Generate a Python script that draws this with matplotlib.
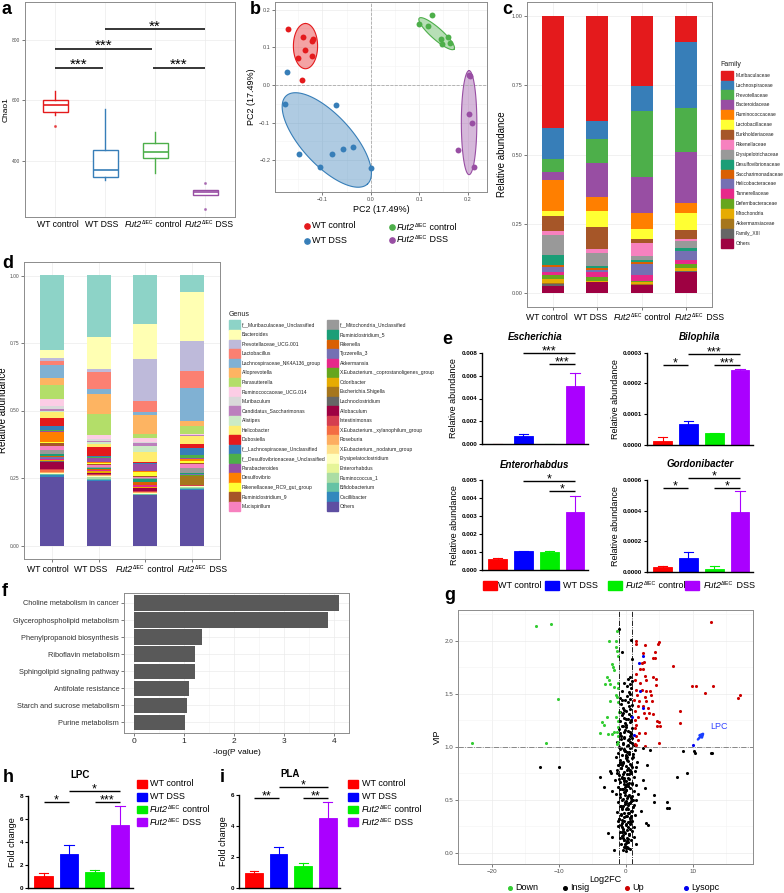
import numpy as np
import matplotlib
matplotlib.use("Agg")
import matplotlib.pyplot as plt
from matplotlib.patches import Rectangle
from matplotlib.lines import Line2D
from matplotlib.ticker import FormatStrFormatter
from matplotlib.offsetbox import TextArea, HPacker, VPacker, DrawingArea, AnnotationBbox

plt.rcParams['font.family'] = ['Liberation Sans', 'DejaVu Sans']

# ==========================
# DATA
# ==========================
group_names = ['WT control', 'WT DSS', 'Fut2 control', 'Fut2 DSS']
set1 = ['#E41A1C', '#377EB8', '#4DAF4A', '#984EA3']
bright = ['#FF0000', '#0000FF', '#00EE00', '#AA00FF']

# a - Chao1
chao_med = [584, 369, 427, 295]
chao_q1 = [562, 347, 409, 287]
chao_q3 = [601, 436, 458, 303]
chao_lo = [550, 337, 359, 287]
chao_hi = [631, 570, 493, 303]
chao_fliers = [[515], [], [], [326, 241]]

# b - PCoA
pc_x = [[-0.171, -0.140, -0.120, -0.121, -0.135, -0.151, -0.122, -0.142],
        [-0.173, -0.178, -0.073, -0.149, -0.080, -0.058, -0.037, -0.104, 0.001],
        [0.099, 0.126, 0.118, 0.144, 0.146, 0.159, 0.164],
        [0.203, 0.205, 0.203, 0.210, 0.181, 0.214]]
pc_y = [[0.148, 0.127, 0.121, 0.116, 0.093, 0.072, 0.078, 0.013],
        [0.035, -0.051, -0.054, -0.182, -0.184, -0.170, -0.165, -0.217, -0.221],
        [0.162, 0.186, 0.157, 0.123, 0.108, 0.127, 0.111],
        [0.027, 0.025, -0.077, -0.100, -0.173, -0.219]]
ell_center = [(-0.135, 0.103), (-0.091, -0.146), (0.136, 0.136), (0.203, -0.100)]
ell_u = [(0.0, 0.060), (0.084, -0.117), (0.036, -0.041), (0.0, 0.138)]
ell_v = [(0.025, 0.0), (0.038, 0.045), (-0.0078, -0.0113), (0.016, 0.0)]

# c - family
fam_names = ['Muribaculaceae', 'Lachnospiraceae', 'Prevotellaceae', 'Bacteroidaceae',
             'Ruminococcaceae', 'Lactobacillaceae', 'Burkholderiaceae', 'Rikenellaceae',
             'Erysipelotrichaceae', 'Desulfovibrionaceae', 'Saccharimonadaceae',
             'Helicobacteraceae', 'Tannerellaceae', 'Deferribacteraceae', 'Mitochondria',
             'Akkermansiaceae', 'Family_XIII', 'Others']
fam_colors = ['#E41A1C', '#377EB8', '#4DAF4A', '#984EA3', '#FF7F00', '#FFFF33', '#A65628',
              '#F781BF', '#999999', '#1B9E77', '#D95F02', '#7570B3', '#E7298A', '#66A61E',
              '#E6AB02', '#A6761D', '#666666', '#9E0142']
fam_wt_ctrl = [0.403, 0.114, 0.045, 0.030, 0.112, 0.017, 0.055, 0.015, 0.072, 0.036,
               0.007, 0.019, 0.009, 0.015, 0.014, 0.005, 0.007, 0.025]
fam_wt_dss = [0.378, 0.067, 0.086, 0.122, 0.049, 0.061, 0.078, 0.015, 0.047, 0.008,
              0.004, 0.010, 0.017, 0.014, 0.003, 0.001, 0.001, 0.039]
fam_fut_ctrl = [0.254, 0.090, 0.238, 0.130, 0.058, 0.035, 0.015, 0.045, 0.017, 0.005,
                0.009, 0.038, 0.021, 0.006, 0.007, 0.002, 0.002, 0.028]
fam_fut_dss = [0.095, 0.237, 0.158, 0.184, 0.036, 0.063, 0.032, 0.006, 0.026, 0.011,
               0.001, 0.032, 0.014, 0.014, 0.010, 0.002, 0.001, 0.078]

# d - genus
gen_names = ['f__Muribaculaceae_Unclassified', 'Bacteroides', 'Prevotellaceae_UCG.001',
             'Lactobacillus', 'Lachnospiraceae_NK4A136_group', 'Alloprevotella',
             'Parasutterella', 'Ruminococcaceae_UCG.014', 'Muribaculum',
             'Candidatus_Saccharimonas', 'Alistipes', 'Helicobacter', 'Dubosiella',
             'f__Lachnospiraceae_Unclassified', 'f__Desulfovibrionaceae_Unclassified',
             'Parabacteroides', 'Desulfovibrio', 'Rikenellaceae_RC9_gut_group',
             'Ruminiclostridium_9', 'Mucispirillum',
             'f__Mitochondria_Unclassified', 'Ruminiclostridium_5', 'Rikenella', 'Tyzzerella_3',
             'Akkermansia', 'X.Eubacterium._coprostanoligenes_group', 'Odoribacter',
             'Escherichia.Shigella', 'Lachnoclostridium', 'Allobaculum', 'Intestinimonas',
             'X.Eubacterium._xylanophilum_group', 'Roseburia', 'X.Eubacterium._nodatum_group',
             'Erysipelatoclostridium', 'Enterorhabdus', 'Ruminococcus_1', 'Bifidobacterium',
             'Oscillibacter', 'Others']
gen_colors = ['#8DD3C7', '#FFFFB3', '#BEBADA', '#FB8072', '#80B1D3', '#FDB462', '#B3DE69',
              '#FCCDE5', '#D9D9D9', '#BC80BD', '#CCEBC5', '#FFED6F', '#E41A1C', '#377EB8',
              '#4DAF4A', '#984EA3', '#FF7F00', '#FFFF33', '#A65628', '#F781BF',
              '#999999', '#1B9E77', '#D95F02', '#7570B3', '#E7298A', '#66A61E', '#E6AB02',
              '#A6761D', '#666666', '#9E0142', '#D53E4F', '#F46D43', '#FDAE61', '#FEE08B',
              '#FFFFBF', '#E6F598', '#ABDDA4', '#66C2A5', '#3288BD', '#5E4FA2']
gen_wt_ctrl = [0.276, 0.030, 0.010, 0.016, 0.046, 0.027, 0.053, 0.027, 0.011, 0.007,
               0.004, 0.020, 0.032, 0.012, 0.006, 0.004, 0.037, 0.001, 0.013, 0.014,
               0.015, 0.006, 0.006, 0.006, 0.004, 0.002, 0.002, 0.001, 0.001, 0.028,
               0.004, 0.006, 0.004, 0.002, 0.001, 0.001, 0.002, 0.002, 0.006, 0.255]
gen_wt_dss = [0.228, 0.118, 0.011, 0.063, 0.020, 0.073, 0.076, 0.016, 0.009, 0.004,
              0.006, 0.012, 0.031, 0.004, 0.005, 0.016, 0.002, 0.005, 0.004, 0.007,
              0.004, 0.002, 0.004, 0.002, 0.001, 0.002, 0.005, 0.001, 0.002, 0.004,
              0.001, 0.002, 0.002, 0.002, 0.002, 0.001, 0.005, 0.005, 0.004, 0.239]
gen_fut_ctrl = [0.178, 0.131, 0.156, 0.039, 0.012, 0.072, 0.014, 0.013, 0.005, 0.010,
                0.023, 0.036, 0.006, 0.002, 0.002, 0.025, 0.004, 0.015, 0.002, 0.005,
                0.004, 0.011, 0.010, 0.002, 0.005, 0.002, 0.002, 0.001, 0.001, 0.009,
                0.004, 0.002, 0.002, 0.002, 0.002, 0.001, 0.001, 0.001, 0.002, 0.186]
gen_fut_dss = [0.061, 0.183, 0.110, 0.065, 0.120, 0.018, 0.032, 0.002, 0.002, 0.001,
               0.001, 0.031, 0.015, 0.025, 0.010, 0.004, 0.009, 0.005, 0.004, 0.017,
               0.017, 0.004, 0.002, 0.001, 0.002, 0.001, 0.002, 0.032, 0.001, 0.001,
               0.001, 0.001, 0.001, 0.001, 0.001, 0.001, 0.004, 0.004, 0.002, 0.207]

# e - selected genera (mean, mean + sem)
esch_mean = [0.00005, 0.00075, 0.00001, 0.00512]
esch_top = [0.00005, 0.00094, 0.00001, 0.00620]
bilo_mean = [0.000013, 0.000066, 0.000039, 0.000243]
bilo_top = [0.000024, 0.000078, 0.000039, 0.000248]
ente_mean = [0.00062, 0.00105, 0.00098, 0.00323]
ente_top = [0.00067, 0.00106, 0.00108, 0.00415]
gord_mean = [0.000032, 0.000095, 0.000024, 0.000389]
gord_top = [0.000041, 0.000130, 0.000043, 0.000530]

# f - pathways
path_names = ['Choline metabolism in cancer', 'Glycerophospholipid metabolism',
              'Phenylpropanoid biosynthesis', 'Riboflavin metabolism',
              'Sphingolipid signaling pathway', 'Antifolate resistance',
              'Starch and sucrose metabolism', 'Purine metabolism']
path_logp = [4.10, 3.88, 1.35, 1.22, 1.22, 1.09, 1.05, 1.01]

# g - volcano
down_x = [-13.4, -11.1, -1.3, -2.5, -1.5, -1.5, -1.3, -1.2, -2.0, -1.9, -1.7, -2.8, -2.5,
          -3.1, -2.3, -1.2, -1.7, -1.2, -10.1, -1.5, -1.3, -2.4, -1.1, -2.8, -1.4, -1.2,
          -3.5, -3.3, -1.2, -1.3, -3.8, -2.7, -2.0, -1.2, -23.0, -11.9, -1.2, -1.3, -1.7, -1.0]
down_y = [2.14, 2.16, 2.09, 2.00, 2.00, 1.94, 1.90, 1.86, 1.78, 1.75, 1.72, 1.66, 1.63,
          1.59, 1.59, 1.60, 1.56, 1.55, 1.45, 1.49, 1.47, 1.43, 1.42, 1.28, 1.28, 1.24,
          1.23, 1.21, 1.19, 1.14, 1.13, 1.12, 1.12, 1.10, 1.04, 1.04, 1.05, 1.03, 1.14, 1.33]
up_x = [12.7, 1.5, 1.6, 2.9, 4.9, 4.8, 4.4, 4.1, 4.4, 2.6, 2.4, 2.7, 2.1, 2.6, 7.0, 1.5,
        2.9, 4.1, 4.5, 1.4, 2.2, 3.1, 4.5, 9.9, 10.5, 13.0, 1.5, 2.5, 3.0, 3.6, 11.8, 1.7,
        2.9, 3.7, 17.0, 16.8, 1.2, 2.0, 3.1, 3.9, 1.9, 2.6, 3.4, 1.4, 8.1, 2.7, 3.5, 4.1,
        1.9, 3.0, 1.4, 4.6, 4.9, 8.1, 1.6, 1.4, 4.6, 5.1, 2.0, 2.9, 1.5, 1.9, 1.4, 5.0,
        2.9, 1.6]
up_y = [2.18, 2.00, 1.97, 1.96, 1.99, 1.97, 1.89, 1.84, 1.84, 1.88, 1.79, 1.80, 1.73,
        1.73, 1.76, 1.69, 1.67, 1.66, 1.64, 1.63, 1.60, 1.63, 1.58, 1.57, 1.57, 1.57,
        1.54, 1.54, 1.53, 1.53, 1.51, 1.49, 1.47, 1.49, 1.49, 1.46, 1.44, 1.43, 1.43,
        1.43, 1.38, 1.38, 1.37, 1.34, 1.34, 1.32, 1.32, 1.31, 1.28, 1.27, 1.25, 1.24,
        1.23, 1.22, 1.21, 1.18, 1.20, 1.20, 1.13, 1.13, 1.10, 1.06, 1.03, 1.04, 1.01, 1.02]
lyso_x = [2.6, 2.0, 2.1, 2.6, 1.0, 1.3, 10.0]
lyso_y = [1.86, 1.79, 1.53, 1.37, 1.28, 1.11, 1.02]
insig_x = [-1.0, 0.75, -0.5, 0.9, -12.8, -9.9, -3.9, -3.3, -2.4, -2.2, -2.1, -2.6, -2.1,
           -1.7, 8.6, 10.2, 10.3, 12.7, 12.9, 7.7, 9.1, 6.1, 6.4, 6.1, 4.2, 4.2, 3.2, 3.6,
           2.6, 2.9, 3.0, 3.4, 1.5, 2.3, 1.9, 2.6, 1.6,
           -0.4, 0.1, 0.3, -0.2, 0.6, -0.7, 0.0, 0.4, -0.3, 0.8, -0.9, 0.2, 1.3, -0.5,
           0.5, -0.1, -0.8, 0.9, 0.2, -0.4, 1.2, -1.1, 0.0, 0.6, -0.6, 0.3, 1.0, -0.2,
           -1.0, 0.7, -0.3, 0.1, 1.4, -0.7, 0.4, -1.3, 0.9, 0.0, -0.5, 1.1, -0.9, 0.3,
           -0.1, 0.6, -1.2, 0.8, 1.6, -0.4, 0.2, -0.8, 1.0, 0.5, -1.4, -0.2, 1.3, 0.0,
           -0.6, 0.7, -1.1, 0.3, 1.5, -0.3, 0.9, -0.9, 0.1, -1.6, 0.5, -0.5, 1.2, -1.0,
           0.2, 0.8, -0.2, 1.4, -1.3, 0.4, -0.7, 1.0, 0.0, -1.1, 0.6, -0.4, 1.7, 0.3,
           -0.8, 0.9, -1.5, 0.1, -0.6, 1.1, -1.2, 0.5, -0.1, 1.4, -0.9, 0.7, -1.0, 0.2,
           1.2, -0.4, 0.9, -1.3, 0.4, -0.7, 1.0, -0.2, 0.6, -0.9, 0.8, -0.3, 0.3, -1.0,
           0.9, -0.5, 0.0, 0.6, -0.8, 0.4, -0.2, 0.8, -0.6, 0.5, -0.9, 0.1, 0.7, -0.4,
           0.9, -0.7, 0.3, -0.1, 0.6, -0.8, 0.2, 0.5, -0.5, 0.8, 0.2, 0.6, -0.3, 0.9,
           0.4, 0.7, -0.15, 0.15, -0.35, 0.35, -0.55, 0.55, -0.75, 0.75, -0.05, 0.05,
           -0.25, 0.25, -0.45, 0.45, -0.65, 0.65, -0.85, 0.85, 0.1, -0.1, 0.3, -0.3,
           0.5, -0.5, 0.2, -0.2, 0.4, -0.4, 0.0, 0.6, -0.6, 0.1, -0.1]
insig_y = [2.11, 2.01, 1.89, 1.83, 0.81, 0.81, 0.72, 0.62, 0.77, 0.75, 0.58, 0.19, 0.15,
           0.03, 0.96, 0.96, 0.94, 0.94, 0.94, 0.72, 0.75, 0.48, 0.42, 0.42, 0.55, 0.48,
           0.83, 0.97, 0.99, 0.61, 0.28, 0.26, 0.08, 0.40, 0.56, 0.69, 0.81,
           0.03, 0.02, 0.05, 0.06, 0.04, 0.08, 0.09, 0.10, 0.12, 0.12, 0.14, 0.14, 0.15,
           0.16, 0.18, 0.19, 0.20, 0.21, 0.22, 0.23, 0.24, 0.25, 0.26, 0.27, 0.28, 0.29,
           0.30, 0.30, 0.32, 0.33, 0.34, 0.35, 0.36, 0.37, 0.38, 0.39, 0.40, 0.41, 0.42,
           0.43, 0.44, 0.45, 0.46, 0.47, 0.48, 0.49, 0.50, 0.51, 0.52, 0.53, 0.54, 0.55,
           0.56, 0.57, 0.58, 0.59, 0.60, 0.61, 0.62, 0.63, 0.64, 0.65, 0.66, 0.67, 0.68,
           0.69, 0.70, 0.71, 0.72, 0.73, 0.74, 0.75, 0.76, 0.77, 0.78, 0.79, 0.80, 0.81,
           0.82, 0.83, 0.84, 0.85, 0.86, 0.87, 0.88, 0.89, 0.90, 0.91, 0.92, 0.93, 0.94,
           0.95, 0.96, 0.97, 0.98, 0.99, 1.00, 1.01, 1.02, 1.03, 1.04, 1.05, 1.06, 1.07,
           1.08, 1.09, 1.10, 1.11, 1.12, 1.14, 1.15, 1.17, 1.18, 1.20, 1.21, 1.23, 1.24,
           1.26, 1.27, 1.29, 1.30, 1.31, 1.33, 1.34, 1.36, 1.37, 1.39, 1.40, 1.42, 1.44,
           1.45, 1.46, 1.48, 1.52, 1.53, 1.55, 1.57, 1.59, 1.60, 1.62, 1.64, 1.66, 0.07,
           0.11, 0.17, 0.24, 0.31, 0.38, 0.44, 0.52, 0.58, 0.64, 0.71, 0.78, 0.86, 0.93,
           0.99, 1.05, 1.13, 0.35, 0.47, 0.55, 0.63, 0.69, 0.74, 0.83, 0.88, 0.97, 0.13,
           0.21, 0.27, 0.33, 0.41, 0.49, 0.57]
insig_core_x = [0.05, -0.15, 0.25, -0.35, 0.45, -0.55, 0.65, -0.75, 0.85, -0.95,
                0.12, -0.22, 0.32, -0.42, 0.52, -0.62, 0.72, -0.82, 0.02, -0.08,
                0.18, -0.28, 0.38, -0.48, 0.58, -0.68, 0.78, -0.88, 0.08, -0.02,
                0.15, -0.25, 0.35, -0.45, 0.55, -0.65, 0.75, -0.05, 0.05, -0.15,
                0.22, -0.32, 0.42, -0.52, 0.62, -0.72, 0.12, -0.12, 0.28, -0.38,
                0.48, -0.58, 0.68, -0.78, 0.18, -0.18, 0.38, -0.28, 0.58, -0.48,
                0.02, -0.42, 0.42, -0.62, 0.62, 0.22, -0.22, 0.82, -0.92, 0.32,
                1.05, -1.05, 1.15, -1.15, 0.95, -0.85, 1.25, -1.25, 0.72, -0.32]
insig_core_y = [0.05, 0.08, 0.11, 0.14, 0.17, 0.20, 0.23, 0.26, 0.29, 0.32,
                0.35, 0.38, 0.41, 0.44, 0.47, 0.50, 0.53, 0.56, 0.59, 0.62,
                0.65, 0.68, 0.71, 0.74, 0.77, 0.80, 0.83, 0.86, 0.89, 0.92,
                0.95, 0.98, 1.01, 1.04, 1.07, 1.10, 1.13, 1.16, 1.19, 1.22,
                0.06, 0.12, 0.18, 0.24, 0.30, 0.36, 0.42, 0.48, 0.54, 0.60,
                0.66, 0.72, 0.78, 0.84, 0.90, 0.96, 1.02, 1.08, 1.14, 1.20,
                1.26, 1.32, 1.38, 1.44, 1.50, 0.10, 0.20, 0.40, 0.60, 0.80,
                0.50, 0.70, 0.90, 0.30, 0.65, 0.85, 0.45, 0.75, 1.25, 1.35]

# h, i - fold change
lpc_mean = [1.07, 2.95, 1.39, 5.46]
lpc_top = [1.36, 3.73, 1.59, 7.14]
pla_mean = [0.99, 2.22, 1.40, 4.49]
pla_top = [1.10, 2.62, 1.59, 5.53]

# ==========================
# HELPERS
# ==========================
W, H = 784, 893
fig = plt.figure(figsize=(W / 100, H / 100), dpi=100)


def add_ax(x0, y0, x1, y1):
    return fig.add_axes([x0 / W, 1 - y1 / H, (x1 - x0) / W, (y1 - y0) / H])


def fx(x):
    return x / W


def fy(y):
    return 1 - y / H


def group_box(i, fs):
    # plain text for WT groups, italic Fut2 + small superscript for the knockout
    if i < 2:
        return TextArea(group_names[i], textprops=dict(fontsize=fs))
    suffix = ' control' if i == 2 else ' DSS'
    sup = VPacker(children=[TextArea('\u0394IEC', textprops=dict(fontsize=fs * 0.58)),
                            DrawingArea(0.5, fs * 0.40)], pad=0, sep=0, align='left')
    return HPacker(children=[TextArea('Fut2', textprops=dict(fontsize=fs, style='italic')),
                             sup, TextArea(suffix, textprops=dict(fontsize=fs))],
                   pad=0, sep=0, align='bottom')


def group_ticks(ax, positions, fs, pad, shifts):
    # labels sit slightly off the ticks in the original artwork, shifts are in pixels
    ax.set_xticks(positions)
    ax.set_xticklabels([])
    for i, p in enumerate(positions):
        ab = AnnotationBbox(group_box(i, fs), (p, 0), xycoords=('data', 'axes fraction'),
                            xybox=(shifts[i] * 0.72, -pad), boxcoords='offset points',
                            box_alignment=(0.5, 1), frameon=False, pad=0,
                            annotation_clip=False)
        ax.add_artist(ab)


def fig_group_text(i, x, y, fs):
    ab = AnnotationBbox(group_box(i, fs), (fx(x), fy(y)), xycoords='figure fraction',
                        box_alignment=(0, 0.5), frameon=False, pad=0, annotation_clip=False)
    fig.add_artist(ab)


def theme_bw(ax, tick_fs=4):
    for s in ax.spines.values():
        s.set_color('#8c8c8c')
        s.set_linewidth(0.7)
    ax.grid(True, color='#ebebeb', lw=0.5)
    ax.set_axisbelow(True)
    ax.tick_params(length=2, width=0.5, color='#444444', labelsize=tick_fs,
                   labelcolor='#4d4d4d', pad=1.5)


def prism(ax, ylim, fmt):
    ax.spines['top'].set_visible(False)
    ax.spines['right'].set_visible(False)
    ax.spines['left'].set_linewidth(1.0)
    ax.spines['bottom'].set_linewidth(1.0)
    ax.set_xlim(-0.6, 3.5)
    ax.set_ylim(*ylim)
    ax.set_xticks([])
    ax.yaxis.set_major_formatter(FormatStrFormatter(fmt))
    ax.tick_params(axis='y', length=2.5, width=0.8, labelsize=4.5, pad=1)
    for t in ax.get_yticklabels():
        t.set_fontweight('bold')


def bars_with_err(ax, mean, top):
    xs = np.arange(4)
    ax.bar(xs, mean, width=0.72, color=bright, edgecolor=bright, lw=0.6)
    for i in range(4):
        ax.plot([xs[i], xs[i]], [mean[i], top[i]], color=bright[i], lw=0.8)
        ax.plot([xs[i] - 0.18, xs[i] + 0.18], [top[i], top[i]], color=bright[i], lw=0.8)


def sig(ax, x1, x2, y, text, fs=9, lw=1.0):
    ax.plot([x1, x2], [y, y], color='black', lw=lw, clip_on=False, solid_capstyle='butt')
    ax.annotate(text, xy=((x1 + x2) / 2, y), xytext=(0, -3.2), textcoords='offset points',
                ha='center', va='bottom', fontsize=fs, annotation_clip=False)


def panel_label(x, y, s):
    fig.text(fx(x), fy(y), s, fontsize=13, fontweight='bold', ha='left', va='center')


# ==========================
# PANEL A - Chao1 boxplot
# ==========================
ax = add_ax(25, 2, 235, 217)
theme_bw(ax, tick_fs=3.5)
stats = []
for i in range(4):
    stats.append(dict(med=chao_med[i], q1=chao_q1[i], q3=chao_q3[i],
                      whislo=chao_lo[i], whishi=chao_hi[i], fliers=chao_fliers[i]))
bp = ax.bxp(stats, positions=[1, 2, 3, 4], widths=0.5, showcaps=False, patch_artist=True)
for i in range(4):
    bp['boxes'][i].set(facecolor='white', edgecolor=set1[i], lw=1.0)
    bp['medians'][i].set(color=set1[i], lw=1.2)
    for w in bp['whiskers'][2 * i:2 * i + 2]:
        w.set(color=set1[i], lw=1.0)
    bp['fliers'][i].set(marker='o', markersize=1.2, markerfacecolor=set1[i],
                        markeredgecolor=set1[i], alpha=0.6)
ax.set_xlim(0.4, 4.6)
ax.set_ylim(213, 925)
ax.set_yticks([400, 600, 800])
group_ticks(ax, [1, 2, 3, 4], 6.2, 2, [2.5, -3.5, -2, 4])
ax.tick_params(axis='x', length=0)
ax.set_ylabel('Chao1', fontsize=6)
ax.yaxis.set_label_coords(-0.075, 0.5)
sig(ax, 1, 1.96, 707, '***', fs=11, lw=1.1)
sig(ax, 1, 2.94, 770, '***', fs=11, lw=1.1)
sig(ax, 2, 4, 834, '**', fs=11, lw=1.1)
sig(ax, 2.96, 4, 707, '***', fs=11, lw=1.1)
panel_label(2, 10, 'a')

# ==========================
# PANEL B - PCoA
# ==========================
ax = add_ax(275, 2, 487, 192)
theme_bw(ax)
ax.set_xlim(-0.198, 0.24)
ax.set_ylim(-0.284, 0.22)
ax.set_xticks([-0.1, 0.0, 0.1, 0.2])
ax.set_yticks([-0.2, -0.1, 0.0, 0.1, 0.2])
ax.set_xticks([-0.15, -0.05, 0.05, 0.15], minor=True)
ax.set_yticks([-0.25, -0.15, -0.05, 0.05, 0.15], minor=True)
ax.grid(True, which='minor', color='#f4f4f4', lw=0.4)
ax.tick_params(which='minor', length=0)
ax.axhline(0, color='#aaaaaa', ls='--', lw=0.6)
ax.axvline(0, color='#aaaaaa', ls='--', lw=0.6)
t = np.linspace(0, 2 * np.pi, 120)
for i in range(4):
    cx, cy = ell_center[i]
    ex = cx + ell_u[i][0] * np.cos(t) + ell_v[i][0] * np.sin(t)
    ey = cy + ell_u[i][1] * np.cos(t) + ell_v[i][1] * np.sin(t)
    ax.fill(ex, ey, color=set1[i], alpha=0.4, lw=0)
    ax.plot(ex, ey, color=set1[i], lw=0.8)
    ax.scatter(pc_x[i], pc_y[i], s=18, color=set1[i], zorder=3, lw=0)
ax.set_xlabel('PC2 (17.49%)', fontsize=6.5, labelpad=2)
ax.set_ylabel('PC2 (17.49%)', fontsize=6.5, labelpad=2)
b_leg = [(306.7, 226), (306.7, 240.7), (391.7, 227), (391.7, 239.5)]
for i in range(4):
    fig.lines.append(Line2D([fx(b_leg[i][0])], [fy(b_leg[i][1])], marker='o', ls='',
                            markersize=3.8, color=set1[i], transform=fig.transFigure))
    fig_group_text(i, b_leg[i][0] + 5.5, b_leg[i][1], 6.5)
panel_label(250, 10, 'b')

# ==========================
# PANEL C - family stacked bars
# ==========================
ax = add_ax(527, 2, 712, 307)
theme_bw(ax)
xs = np.arange(4)
fam_vals = np.array([fam_wt_ctrl, fam_wt_dss, fam_fut_ctrl, fam_fut_dss]).T
bottom = np.zeros(4)
for i in reversed(range(len(fam_names))):
    ax.bar(xs, fam_vals[i], bottom=bottom, width=0.5, color=fam_colors[i], lw=0)
    bottom += fam_vals[i]
ax.set_xlim(-0.6, 3.6)
ax.set_ylim(-0.05, 1.05)
ax.set_yticks([0, 0.25, 0.5, 0.75, 1.0])
ax.set_yticklabels(['0.00', '0.25', '0.50', '0.75', '1.00'])
group_ticks(ax, xs, 6.2, 4, [-6.3, -7.2, 0.7, 14])
ax.set_ylabel('Relative abundance', fontsize=7)
ax.yaxis.set_label_coords(-0.11, 0.5)
fig.text(fx(720), fy(64), 'Family', fontsize=5, va='center', color='#222222')
for i, name in enumerate(fam_names):
    yc = 75.3 + i * 9.88
    fig.patches.append(Rectangle((fx(721), fy(yc + 4.6)), 11.5 / W, 9.2 / H,
                                 transform=fig.transFigure, color=fam_colors[i]))
    fig.text(fx(735.5), fy(yc), name, fontsize=3.55, va='center', color='#222222')
panel_label(502, 10, 'c')

# ==========================
# PANEL D - genus stacked bars
# ==========================
ax = add_ax(24, 262, 220, 559)
theme_bw(ax)
gen_vals = np.array([gen_wt_ctrl, gen_wt_dss, gen_fut_ctrl, gen_fut_dss]).T
bottom = np.zeros(4)
for i in reversed(range(len(gen_names))):
    ax.bar(xs, gen_vals[i], bottom=bottom, width=0.51, color=gen_colors[i], lw=0)
    bottom += gen_vals[i]
ax.set_xlim(-0.59, 3.59)
ax.set_ylim(-0.05, 1.05)
ax.set_yticks([0, 0.25, 0.5, 0.75, 1.0])
ax.set_yticklabels(['0.00', '0.25', '0.50', '0.75', '1.00'])
ax.tick_params(axis='y', labelsize=3.5)
group_ticks(ax, xs, 6.2, 4, [-3.9, -7.4, -1, 10.2])
ax.set_ylabel('Relative abundance', fontsize=7)
ax.yaxis.set_label_coords(-0.08, 0.5)
fig.text(fx(229), fy(314), 'Genus', fontsize=5, va='center', color='#222222')
for i, name in enumerate(gen_names):
    col, row = divmod(i, 20)
    yc = 325 + row * 9.56
    x0 = 229.3 if col == 0 else 327.3
    fig.patches.append(Rectangle((fx(x0), fy(yc + 4.6)), 10.5 / W, 9.2 / H,
                                 transform=fig.transFigure, color=gen_colors[i]))
    fig.text(fx(x0 + 12.5), fy(yc), name, fontsize=3.6, va='center', color='#222222')
panel_label(2, 263, 'd')

# ==========================
# PANEL E - selected genera
# ==========================
e_specs = [
    ((482, 352.7, 588, 444.3), 'Escherichia', esch_mean, esch_top, (0, 0.008), '%.3f', 0.002,
     [(1, 3, 0.00795, '***'), (2, 3, 0.00702, '***')]),
    ((647, 352.7, 753, 444.7), 'Bilophila', bilo_mean, bilo_top, (0, 0.0003), '%.4f', 0.0001,
     [(0, 1, 0.00026, '*'), (1, 3, 0.000296, '***'), (2, 3, 0.00026, '***')]),
    ((482, 480.3, 588, 570), 'Enterorhabdus', ente_mean, ente_top, (0, 0.005), '%.3f', 0.001,
     [(1, 3, 0.00498, '*'), (2, 3, 0.00439, '*')]),
    ((647, 479.7, 753, 572.3), 'Gordonibacter', gord_mean, gord_top, (0, 0.0006), '%.4f', 0.0002,
     [(0, 1, 0.000545, '*'), (1, 3, 0.00061, '*'), (2, 3, 0.000545, '*')]),
]
for box, title, mean, top, ylim, fmt, step, sigs in e_specs:
    ax = add_ax(*box)
    bars_with_err(ax, mean, top)
    ax.set_yticks(np.arange(0, ylim[1] + step / 2, step))
    prism(ax, ylim, fmt)
    ax.set_ylabel('Relative abundance', fontsize=6.5, labelpad=2)
    ax.set_title(title, fontsize=7, fontweight='bold', style='italic', pad=9)
    for a, b, yv, txt in sigs:
        sig(ax, a, b, yv, txt, fs=9)
panel_label(442, 340, 'e')

leg_x = [(482.7, 497.5), (545.3, 563.3), (608.3, 626), (685, 703.3)]
for i in range(4):
    fig.patches.append(Rectangle((fx(leg_x[i][0]), fy(589.5)), 14 / W, 8.5 / H,
                                 transform=fig.transFigure, color=bright[i]))
    fig_group_text(i, leg_x[i][1], 585.3, 6.5)

# ==========================
# PANEL F - pathways
# ==========================
ax = add_ax(124, 592.7, 349, 732.7)
theme_bw(ax)
ys = np.arange(len(path_names))
ax.barh(ys, path_logp, height=0.9, color='#595959')
ax.set_ylim(len(path_names) - 0.4, -0.6)
ax.set_xlim(-0.2, 4.3)
ax.set_yticks(ys)
ax.set_yticklabels(path_names, fontsize=5.3, color='#333333')
ax.set_xticks([0, 1, 2, 3, 4])
ax.set_xticks([0.5, 1.5, 2.5, 3.5], minor=True)
ax.grid(True, which='minor', axis='x', color='#f2f2f2', lw=0.4)
ax.tick_params(axis='x', which='minor', length=0)
ax.tick_params(axis='x', labelsize=6, labelcolor='#222222')
ax.set_xlabel('-log(P value)', fontsize=6, labelpad=3)
panel_label(2, 592, 'f')

# ==========================
# PANEL G - volcano
# ==========================
ax = add_ax(458.3, 610, 753.3, 864)
theme_bw(ax, tick_fs=4.5)
ax.set_xlim(-25, 19.05)
ax.set_ylim(-0.104, 2.289)
ax.set_xticks([-20, -10, 0, 10])
ax.set_yticks([0, 0.5, 1.0, 1.5, 2.0])
ax.set_yticklabels(['0.0', '0.5', '1.0', '1.5', '2.0'])
ax.set_xticks([-25, -15, -5, 5, 15], minor=True)
ax.set_yticks([0.25, 0.75, 1.25, 1.75, 2.25], minor=True)
ax.grid(True, which='minor', color='#f4f4f4', lw=0.4)
ax.tick_params(which='minor', length=0)
ax.axvline(-1, color='black', ls='-.', lw=0.6)
ax.axvline(1, color='black', ls='-.', lw=0.6)
ax.axhline(1, color='#777777', ls='-.', lw=0.6)
vol_colors = ['#33CC33', '#000000', '#CC0000', '#0000EE']
ax.scatter(insig_x, insig_y, s=5, color=vol_colors[1], lw=0)
ax.scatter(insig_core_x, insig_core_y, s=5, color=vol_colors[1], lw=0)
ax.scatter(down_x, down_y, s=5, color=vol_colors[0], lw=0)
ax.scatter(up_x, up_y, s=5, color=vol_colors[2], lw=0)
ax.scatter(lyso_x, lyso_y, s=5, color=vol_colors[3], lw=0, zorder=3)
ax.annotate('', xy=(12.1, 1.16), xytext=(10.5, 1.05),
            arrowprops=dict(arrowstyle='-|>', color='#1a3fff', lw=1.8, mutation_scale=6))
ax.text(12.6, 1.19, 'LPC', color='#3344ff', fontsize=6.5, va='center')
ax.set_xlabel('Log2FC', fontsize=6.5, labelpad=1)
ax.set_ylabel('VIP', fontsize=6.5, labelpad=2)
vol_names = ['Down', 'Insig', 'Up', 'Lysopc']
vol_lx = [510, 565, 627, 686]
for i in range(4):
    fig.lines.append(Line2D([fx(vol_lx[i])], [fy(888)], marker='o', ls='', markersize=2.6,
                            color=vol_colors[i], transform=fig.transFigure))
    fig.text(fx(vol_lx[i] + 5), fy(888), vol_names[i], fontsize=6.5, va='center')
panel_label(444, 595, 'g')

# ==========================
# PANELS H, I - fold change
# ==========================
hi_specs = [
    ((28.3, 796, 132.7, 888.3), 'LPC', lpc_mean, lpc_top, (0, 8),
     [(0, 1, 7.51, '*'), (1, 3, 8.47, '*'), (2, 3, 7.51, '***')], 136.7, 149.5),
    ((239.3, 795, 340, 888), 'PLA', pla_mean, pla_top, (0, 6),
     [(0, 1, 5.78, '**'), (1, 3, 6.54, '*'), (2, 3, 5.78, '**')], 347.7, 361.5),
]
for box, title, mean, top, ylim, sigs, lx, tx in hi_specs:
    ax = add_ax(*box)
    bars_with_err(ax, mean, top)
    ax.set_yticks(np.arange(0, ylim[1] + 1, 2))
    prism(ax, ylim, '%d')
    ax.set_ylabel('Fold change', fontsize=6.5, labelpad=2)
    ax.set_title(title, fontsize=7, fontweight='bold', pad=13)
    for a, b, yv, txt in sigs:
        sig(ax, a, b, yv, txt, fs=9)
    for i in range(4):
        yc = 784 + i * 12.7
        fig.patches.append(Rectangle((fx(lx), fy(yc + 3.8)), 10 / W, 7.5 / H,
                                     transform=fig.transFigure, color=bright[i]))
        fig_group_text(i, tx, yc, 6.5)
panel_label(3, 778, 'h')
panel_label(220, 778, 'i')

fig.savefig('out.png', dpi=100)
